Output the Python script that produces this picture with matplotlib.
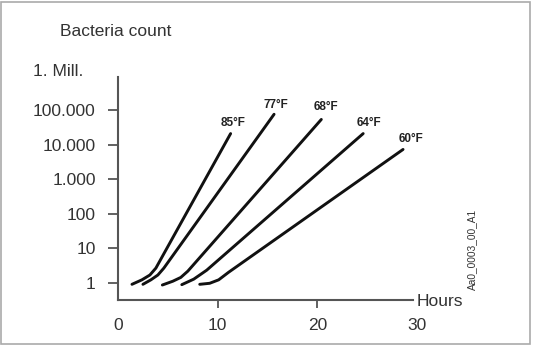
import matplotlib
matplotlib.use("Agg")
import matplotlib.pyplot as plt
import numpy as np

# ---- data ----
labels = ["85°F", "77°F", "68°F", "64°F", "60°F"]
hours = [
    [1.4, 2.4, 3.2, 3.8, 11.3],
    [2.5, 3.3, 4.0, 4.6, 15.66],
    [4.45, 5.5, 6.3, 7.0, 20.4],
    [6.4, 7.6, 8.9, 24.6],
    [8.2, 9.2, 10.1, 11.1, 28.6],
]
log_count = [
    [-0.05, 0.08, 0.22, 0.42, 4.32],
    [-0.05, 0.08, 0.22, 0.42, 4.88],
    [-0.07, 0.04, 0.15, 0.33, 4.73],
    [-0.06, 0.10, 0.36, 4.32],
    [-0.05, -0.02, 0.08, 0.30, 3.86],
]
ytick_vals = [1, 10, 100, 1000, 10000, 100000]
ytick_labels = ["1", "10", "100", "1.000", "10.000", "100.000"]
xtick_vals = [0, 10, 20, 30]
xtick_labels = ["0", "10", "20", "30"]

W, H = 535, 345
fig = plt.figure(figsize=(W / 100, H / 100), dpi=100)
plt.rcParams['font.family'] = ['Liberation Sans', 'DejaVu Sans']

def fx(px):
    return px / W

def fy(py):
    return 1 - py / H

ax = fig.add_axes([fx(118), fy(299.5), fx(417 - 118), (299.5 - 77) / H])
ax.set_yscale('log')
ax.set_xlim(0, 30)
ax.set_ylim(10 ** -0.49, 10 ** 5.96)

axis_col = '#555555'
for s in ['top', 'right']:
    ax.spines[s].set_visible(False)
ax.spines['left'].set_color(axis_col)
ax.spines['bottom'].set_color(axis_col)
ax.spines['left'].set_linewidth(1.5)
ax.spines['bottom'].set_linewidth(1.5)
ax.spines['bottom'].set_bounds(0, 29.6)

# curves
offsets = [(2, 7.5), (1, 7), (3, 9), (4.5, 7.5), (6, 7.5)]
for lab, xs, ls, off in zip(labels, hours, log_count, offsets):
    ys = 10 ** np.array(ls)
    ax.plot(xs, ys, color='#111111', lw=2.1, solid_capstyle='round',
            solid_joinstyle='round')
    ax.annotate(lab, xy=(xs[-1], ys[-1]), xytext=off, textcoords='offset points',
                ha='center', va='center', fontsize=8.5, fontweight='bold',
                color='#222222')

ax.set_yticks(ytick_vals)
ax.set_yticklabels(ytick_labels)
ax.yaxis.set_minor_locator(matplotlib.ticker.NullLocator())
ax.set_xticks(xtick_vals)
ax.set_xticklabels(xtick_labels)
ax.tick_params(axis='y', length=7, width=1.3, color=axis_col, pad=9,
               labelsize=12.5, labelcolor='#333333')
ax.tick_params(axis='x', length=6, width=1.3, color=axis_col, pad=7,
               labelsize=12.5, labelcolor='#333333')
xt = ax.xaxis.get_major_ticks()
xt[0].tick1line.set_visible(False)
xt[-1].tick1line.set_visible(False)

# texts
fig.text(fx(60), fy(32), "Bacteria count", ha='left', va='center',
         fontsize=12.5, color='#333333')
fig.text(fx(33), fy(71), "1. Mill.", ha='left', va='center',
         fontsize=12.5, color='#333333')
fig.text(fx(417), fy(301), "Hours", ha='left', va='center',
         fontsize=12.5, color='#333333')
fig.text(fx(472), fy(249), "Aa0_0003_00_A1", ha='center', va='center',
         rotation=90, fontsize=7.3, color='#333333')

# outer frame
frame = plt.Rectangle((fx(1.5), fy(343.5)), fx(530 - 1.5), (343.5 - 1.5) / H,
                      transform=fig.transFigure, fill=False,
                      edgecolor='#aaaaaa', lw=1.2)
fig.patches.append(frame)

fig.savefig("out.png", dpi=100)
